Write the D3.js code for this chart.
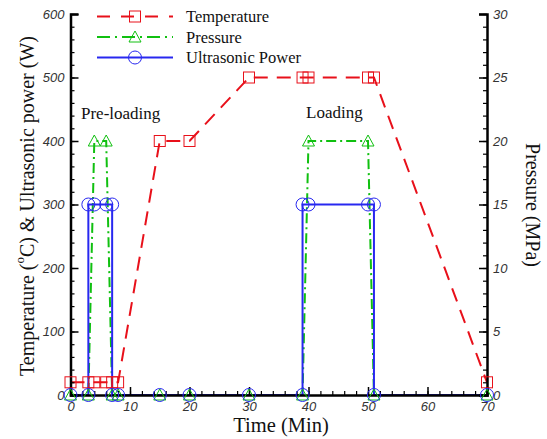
<!DOCTYPE html>
<html>
<head>
<meta charset="utf-8">
<script src="https://cdn.jsdelivr.net/npm/d3@7"></script>
<style>
  body { margin: 0; background: #fff; }
  .tick-label { font-family: "Liberation Sans", Arial, sans-serif; font-style: italic; font-size: 13px; fill: #333; }
  .title { font-family: "Liberation Serif", "Times New Roman", serif; fill: #111; }
</style>
</head>
<body>
<svg id="chart" width="547" height="439"></svg>
<script>
// Data (time in Min)
var tempTime = [0, 3, 4, 6, 7, 8, 15, 20, 30, 39, 40, 50, 51, 70],
	tempValue = [20, 20, 20, 20, 20, 20, 400, 400, 500, 500, 500, 500, 500, 20];

var presTime = [0, 3, 4, 6, 7, 8, 15, 20, 30, 39, 40, 50, 51, 70],
	presValue = [0, 0, 20, 20, 0, 0, 0, 0, 0, 0, 20, 20, 0, 0];

var powerTime = [0, 3, 3, 4, 6, 7, 7, 8, 15, 20, 30, 39, 39, 40, 50, 51, 51, 70],
	powerValue = [0, 0, 300, 300, 300, 300, 0, 0, 0, 0, 0, 0, 300, 300, 300, 300, 0, 0];

var xTicks = [0, 10, 20, 30, 40, 50, 60, 70],
	yLeftTicks = [0, 100, 200, 300, 400, 500, 600],
	yRightTicks = [0, 5, 10, 15, 20, 25, 30];

var seriesNames = ['Temperature', 'Pressure', 'Ultrasonic Power'];

// Layout
var plotLeft = 70.5, plotRight = 487, plotTop = 14, plotBottom = 395;

var svg = d3.select('#chart');

var x = d3.scaleLinear().domain([0, 70]).range([plotLeft, plotRight]),
	yL = d3.scaleLinear().domain([0, 600]).range([plotBottom, plotTop]),
	yR = d3.scaleLinear().domain([0, 30]).range([plotBottom, plotTop]);

var red = '#e8101a', green = '#10c010', blue = '#2828f0';

// Lines (drawn under the axes)
var tempLine = d3.line().x(function(d) { return x(d[0]); }).y(function(d) { return yL(d[1]); });
var presLine = d3.line().x(function(d) { return x(d[0]); }).y(function(d) { return yR(d[1]); });

var tempData = d3.zip(tempTime, tempValue),
	presData = d3.zip(presTime, presValue),
	powerData = d3.zip(powerTime, powerValue);

svg.append('path').datum(tempData).attr('d', tempLine)
	.attr('fill', 'none').attr('stroke', red).attr('stroke-width', 2).attr('stroke-dasharray', '14,9');
svg.append('path').datum(presData).attr('d', presLine)
	.attr('fill', 'none').attr('stroke', green).attr('stroke-width', 2).attr('stroke-dasharray', '10,4,2,4');
svg.append('path').datum(powerData).attr('d', tempLine)
	.attr('fill', 'none').attr('stroke', blue).attr('stroke-width', 2);

// Axes (ticks pointing inward)
function drawAxis(axis, tr) {
	var g = svg.append('g').attr('transform', tr).call(axis);
	g.select('.domain').attr('stroke', '#000').attr('stroke-width', 2.5);
	g.selectAll('.tick line').attr('stroke', '#000').attr('stroke-width', 1.5);
	g.selectAll('.tick text').attr('class', 'tick-label');
	return g;
}

function minor(g) {
	g.select('.domain').remove();
	g.selectAll('line').attr('stroke', '#000').attr('stroke-width', 1.2);
}

// minor ticks
svg.append('g').attr('transform', 'translate(0,' + plotBottom + ')')
	.call(d3.axisBottom(x).tickValues(d3.range(0, 71, 2)).tickSize(-4).tickFormat(''))
	.call(minor);
svg.append('g').attr('transform', 'translate(' + plotLeft + ',0)')
	.call(d3.axisLeft(yL).tickValues(d3.range(0, 601, 20)).tickSize(-4).tickFormat(''))
	.call(minor);
svg.append('g').attr('transform', 'translate(' + plotRight + ',0)')
	.call(d3.axisRight(yR).tickValues(d3.range(0, 31, 1)).tickSize(-4).tickFormat(''))
	.call(minor);

var gx = drawAxis(d3.axisBottom(x).tickValues(xTicks).tickSize(-8).tickPadding(4), 'translate(0,' + plotBottom + ')');
gx.selectAll('.tick text').attr('dy', '0.95em');
var gl = drawAxis(d3.axisLeft(yL).tickValues(yLeftTicks).tickSize(-8).tickPadding(6), 'translate(' + plotLeft + ',0)');
var gr = drawAxis(d3.axisRight(yR).tickValues(yRightTicks).tickSize(-8).tickPadding(6), 'translate(' + plotRight + ',0)');
gl.selectAll('.tick text').attr('dy', '0.32em');
gr.selectAll('.tick text').attr('dy', '0.32em');

// Markers
function square(g, cx, cy) {
	g.append('rect').attr('x', cx - 5.5).attr('y', cy - 5.5).attr('width', 11).attr('height', 11)
		.attr('fill', 'none').attr('stroke', red).attr('stroke-width', 1);
}
function triangle(g, cx, cy) {
	g.append('path').attr('d', 'M' + (cx - 6) + ',' + (cy + 5) + 'L' + (cx + 6) + ',' + (cy + 5) + 'L' + cx + ',' + (cy - 6) + 'Z')
		.attr('fill', 'none').attr('stroke', green).attr('stroke-width', 1);
}
function circle(g, cx, cy) {
	g.append('circle').attr('cx', cx).attr('cy', cy).attr('r', 6.5)
		.attr('fill', 'none').attr('stroke', blue).attr('stroke-width', 1);
}

var marks = svg.append('g');
tempData.forEach(function(d) { square(marks, x(d[0]), yL(d[1])); });
presData.forEach(function(d) { triangle(marks, x(d[0]), yR(d[1])); });
powerData.forEach(function(d) { circle(marks, x(d[0]), yL(d[1])); });

// Legend
var legend = svg.append('g');
var legRows = [16.5, 37, 57.5];
legend.append('line').attr('x1', 97).attr('x2', 173).attr('y1', legRows[0]).attr('y2', legRows[0])
	.attr('stroke', red).attr('stroke-width', 2).attr('stroke-dasharray', '13,11');
square(legend, 135, legRows[0]);
legend.append('line').attr('x1', 97).attr('x2', 173).attr('y1', legRows[1]).attr('y2', legRows[1])
	.attr('stroke', green).attr('stroke-width', 2).attr('stroke-dasharray', '13,5,2,5');
triangle(legend, 135, legRows[1]);
legend.append('line').attr('x1', 97).attr('x2', 173).attr('y1', legRows[2]).attr('y2', legRows[2])
	.attr('stroke', blue).attr('stroke-width', 2);
circle(legend, 135, legRows[2]);
legend.selectAll('text.leg').data(seriesNames).enter().append('text')
	.attr('class', 'title').attr('x', 186).attr('y', function(d, i) { return legRows[i] + 5.5; })
	.style('font-size', '16.5px').text(function(d) { return d; });

// Annotations
svg.append('text').attr('class', 'title').attr('x', 81).attr('y', 119).style('font-size', '17px').text('Pre-loading');
svg.append('text').attr('class', 'title').attr('x', 306).attr('y', 118).style('font-size', '17px').text('Loading');

// Axis titles
svg.append('text').attr('class', 'title').attr('x', 281).attr('y', 432)
	.attr('text-anchor', 'middle').style('font-size', '20.5px').text('Time (Min)');

var yt = svg.append('text').attr('class', 'title')
	.attr('transform', 'translate(34,' + 206 + ') rotate(-90)')
	.attr('text-anchor', 'middle').style('font-size', '20px');
yt.append('tspan').text('Temperature (');
yt.append('tspan').attr('dy', -10).style('font-size', '13px').text('o');
yt.append('tspan').attr('dy', 10).text('C) & Ultrasonic power (W)');

svg.append('text').attr('class', 'title')
	.attr('transform', 'translate(526,' + 205 + ') rotate(90)')
	.attr('text-anchor', 'middle').style('font-size', '20px').text('Pressure (MPa)');
</script>
</body>
</html>
